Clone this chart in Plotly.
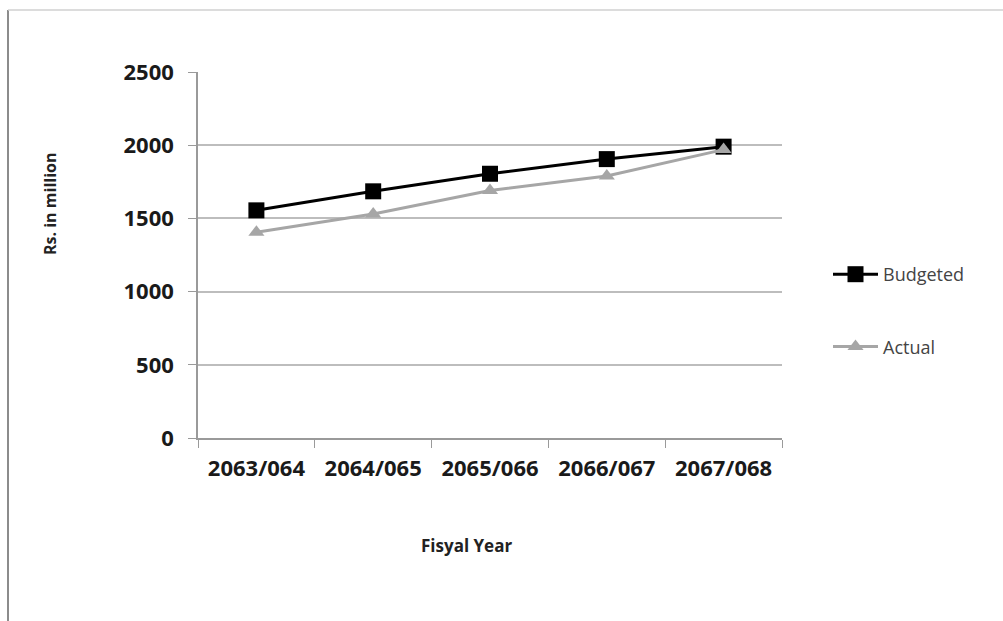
import plotly.graph_objects as go

# Fiscal years and amounts (Rs. in million)
years = ["2063/064", "2064/065", "2065/066", "2066/067", "2067/068"]
budgeted = [1555, 1685, 1805, 1905, 1990]
actual = [1405, 1530, 1690, 1790, 1970]
y_ticks = [0, 500, 1000, 1500, 2000, 2500]

W, H = 1003, 621
L, R, T, B = 198, 221, 72, 183
pw, ph = W - L - R, H - T - B


def px_x(x):
    return (x - L) / pw


def px_y(y):
    return (H - B - y) / ph


fig = go.Figure()
fig.add_trace(go.Scatter(
    x=years, y=budgeted, name="Budgeted", mode="lines+markers",
    line=dict(color="#000000", width=3),
    marker=dict(symbol="square", size=16, color="#000000"),
    legendgroup="b",
))
fig.add_trace(go.Scatter(
    x=years, y=actual, name="Actual", mode="lines+markers",
    line=dict(color="#a6a6a6", width=3),
    marker=dict(symbol="triangle-up", size=14, color="#a6a6a6"),
    legendgroup="a",
))

# outer chart frame
fig.add_shape(type="line", xref="paper", yref="paper",
              x0=px_x(8), x1=px_x(8), y0=px_y(10), y1=px_y(621),
              line=dict(color="#8c8c8c", width=2))
fig.add_shape(type="line", xref="paper", yref="paper",
              x0=px_x(8), x1=px_x(1003), y0=px_y(10), y1=px_y(10),
              line=dict(color="#d0d0d0", width=1.5))

# axis titles
fig.add_annotation(text="Rs. in million", xref="paper", yref="paper",
                   x=px_x(50), y=px_y(204), showarrow=False, textangle=-90,
                   xanchor="center", yanchor="middle",
                   font=dict(family="Open Sans", size=16, color="#222222", weight="bold"))
fig.add_annotation(text="Fisyal Year", xref="paper", yref="paper",
                   x=px_x(466), y=px_y(545), showarrow=False,
                   xanchor="center", yanchor="middle",
                   font=dict(family="Open Sans", size=17, color="#222222", weight="bold"))

fig.update_layout(
    width=W, height=H,
    margin=dict(l=L, r=R, t=T, b=B),
    paper_bgcolor="white", plot_bgcolor="white",
    font=dict(family="Open Sans", color="#222222"),
    showlegend=True,
    legend=dict(
        x=px_x(828), y=px_y(256), xanchor="left", yanchor="top",
        font=dict(family="Open Sans", size=18, color="#444444"),
        tracegroupgap=46, traceorder="grouped", itemwidth=45,
        bgcolor="rgba(0,0,0,0)",
    ),
)
fig.update_xaxes(
    type="category", range=[-0.5, 4.5],
    showline=True, linecolor="#9a9a9a", linewidth=1.5,
    ticks="outside", tickson="boundaries", ticklen=8, tickcolor="#9a9a9a",
    showgrid=False,
    tickfont=dict(family="Open Sans", size=22, color="#1a1a1a", weight="bold"),
    ticklabelstandoff=10,
)
fig.update_yaxes(
    range=[0, 2500], tickvals=y_ticks,
    showline=True, linecolor="#9a9a9a", linewidth=1.5,
    ticks="outside", ticklen=8, tickcolor="#9a9a9a",
    showgrid=True, gridcolor="#bdbdbd", gridwidth=1.5, zeroline=False,
    tickfont=dict(family="Open Sans", size=22, color="#1a1a1a", weight="bold"),
    ticklabelstandoff=10,
)

fig.write_html("out.html")
